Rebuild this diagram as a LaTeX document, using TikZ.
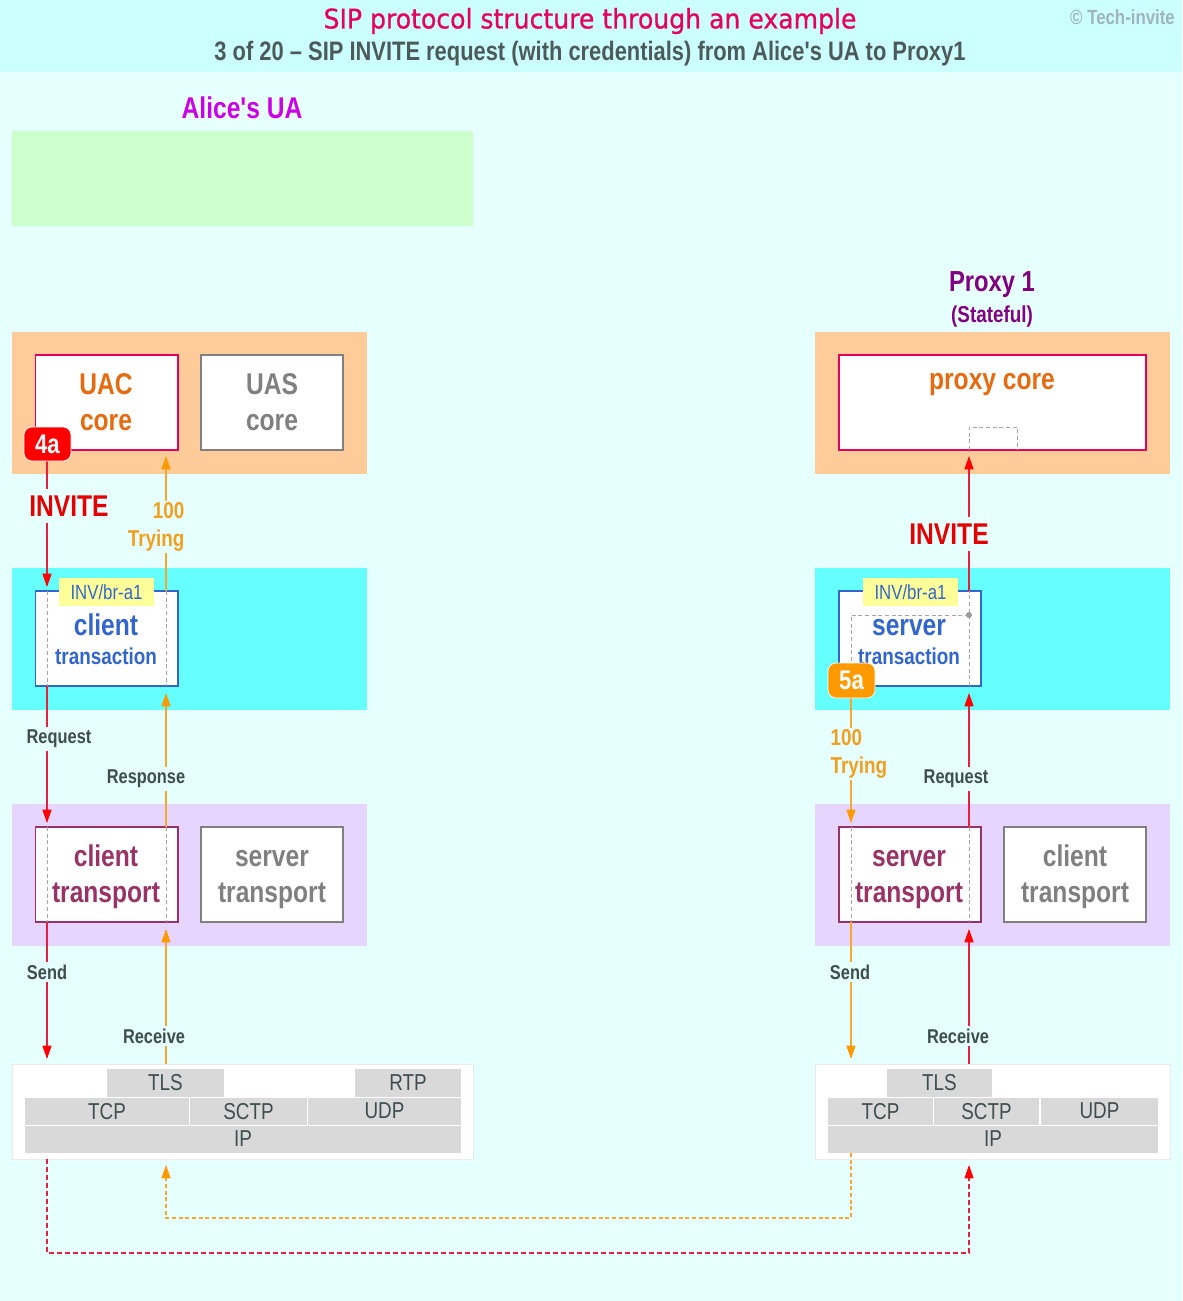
\documentclass[tikz,border=0pt]{standalone}
\usepackage{fontspec}
\setmainfont[FakeStretch=0.82]{Liberation Sans}
\newfontfamily\plainf[FakeStretch=0.82]{Liberation Sans}
\newfontfamily\titlefont[FakeStretch=0.93,FakeBold=0.7]{DejaVu Sans}
\usetikzlibrary{arrows.meta}
\definecolor{pagebg}{HTML}{E6FFFF}
\definecolor{headbg}{HTML}{CCFFFF}
\definecolor{greenbg}{HTML}{CCFFCC}
\definecolor{orangebg}{HTML}{FFCC99}
\definecolor{cyanbg}{HTML}{66FFFF}
\definecolor{lilacbg}{HTML}{E6D5FF}
\definecolor{pinkline}{HTML}{E6005C}
\definecolor{coretxt}{HTML}{E66A10}
\definecolor{grayline}{HTML}{808080}
\definecolor{blueline}{HTML}{3366CC}
\definecolor{transline}{HTML}{993366}
\definecolor{redc}{HTML}{FF0000}
\definecolor{orangec}{HTML}{FF9900}
\definecolor{stackc}{HTML}{D9D9D9}
\definecolor{darktxt}{HTML}{404D4D}
\definecolor{subtxt}{HTML}{4D5A5A}
\definecolor{trying}{HTML}{F0A020}
\definecolor{redthin}{HTML}{E8203C}
\definecolor{orgthin}{HTML}{F5A830}
\definecolor{alicec}{HTML}{CC00E6}
\definecolor{proxyc}{HTML}{800080}
\definecolor{tagc}{HTML}{FFFF99}
\definecolor{copyc}{HTML}{A0B4BE}
\newcommand{\fs}[1]{\fontsize{\dimexpr#1pt*3/4\relax}{\dimexpr#1pt*9/10\relax}\selectfont}
\newcommand{\ct}[1]{\raisebox{0.75pt}{#1}\hspace{2pt}}
% \rbox{name}{x1}{y1}{x2}{y2}{style}{text}
\newcommand{\rbox}[7]{%
  \pgfmathsetmacro{\bw}{(#4-#2)*0.75}\pgfmathsetmacro{\bh}{(#5-#3)*0.75}%
  \node[#6,minimum width=\bw pt,minimum height=\bh pt,anchor=north west] (#1) at (#2,#3) {#7};}
\tikzset{
  x=0.75pt,y=-0.75pt,
  band/.style={draw=none,inner sep=0pt,outer sep=0pt},
  wbox/.style={draw=#1,fill=white,line width=1.3pt,inner sep=0pt,outer sep=0pt,align=center},
  stackbox/.style={draw=black!8,fill=white,line width=0.6pt,inner sep=0pt,outer sep=0pt},
  cell/.style={fill=stackc,inner sep=0pt,outer sep=0pt,text=darktxt,font=\fs{23}},
  boxt/.style={font=\bfseries\fs{#1},inner sep=0pt,align=center},
  tag/.style={fill=tagc,inner sep=0pt,outer sep=0pt,text=blueline,font=\fs{20.5}},
  badge/.style={rounded corners=6pt,inner sep=0pt,outer sep=0pt,text=white,font=\bfseries\fs{27},draw=white,line width=0.5pt},
  lbl/.style={font=\bfseries\fs{20},text=darktxt,inner sep=1pt,inner ysep=2pt,fill=pagebg},
  inv/.style={font=\bfseries\fs{30},text=red!90!black,inner xsep=0pt,inner ysep=5pt,fill=pagebg},
  try/.style={font=\bfseries\fs{23},text=trying,inner sep=1pt,fill=pagebg},
  arrowr/.style={-{Triangle[length=10pt,width=6.8pt,color=redc,fill=redc]}},
  arrowo/.style={-{Triangle[length=10pt,width=6.8pt,color=orangec,fill=orangec]}},
  redarrow/.style={draw=redthin,line width=0.8pt,arrowr},
  orgarrow/.style={draw=orgthin,line width=0.8pt,arrowo},
  inner/.style={draw=grayline!70,line width=0.6pt,dash pattern=on 3pt off 2pt},
  reddash/.style={draw=redthin,line width=0.8pt,dash pattern=on 4pt off 2pt,arrowr},
  orgdash/.style={draw=orgthin,line width=0.8pt,dash pattern=on 3pt off 2pt,arrowo},
}
\begin{document}
\begin{tikzpicture}
\useasboundingbox (0,0) rectangle (1182,1301);
\fill[pagebg] (0,0) rectangle (1182,1301);
\fill[headbg] (0,0) rectangle (1182,72);
\node[inner sep=0pt,font=\titlefont\fs{27},text=pinkline] (title) at (590,21) {SIP protocol structure through an example};
\node[inner sep=0pt,font=\plainf\bfseries\fs{26.7},text=subtxt] (subtitle) at (590,54) {3 of 20 – SIP INVITE request (with credentials) from Alice's UA to Proxy1};
\node[inner sep=0pt,font=\bfseries\fs{20.5},text=copyc,anchor=east] (copy) at (1175,17) {© Tech-invite};
\node[inner sep=0pt,font=\plainf\bfseries\fs{30},text=alicec] (alice) at (242,108) {Alice's UA};
\node[inner sep=0pt,font=\bfseries\fs{29},text=proxyc] (proxy) at (992,285) {Proxy 1};
\node[inner sep=0pt,font=\bfseries\fs{23},text=proxyc] (stateful) at (992,317) {(Stateful)};

% bands
\rbox{greenband}{12}{131}{473}{226}{band,fill=greenbg}{}
\rbox{oL}{12}{332}{367}{474}{band,fill=orangebg}{}
\rbox{oR}{815}{332}{1170}{474}{band,fill=orangebg}{}
\rbox{cL}{12}{568}{367}{710}{band,fill=cyanbg}{}
\rbox{cR}{815}{568}{1170}{710}{band,fill=cyanbg}{}
\rbox{lL}{12}{804}{367}{946}{band,fill=lilacbg}{}
\rbox{lR}{815}{804}{1170}{946}{band,fill=lilacbg}{}

% boxes
\rbox{uac}{35.6}{355}{177.7}{450}{wbox=pinkline}{}
\rbox{uas}{201.3}{355}{343.3}{450}{wbox=grayline}{}
\rbox{ctr}{35.6}{591}{177.7}{686}{wbox=blueline}{}
\rbox{ctp}{35.6}{827}{177.7}{922}{wbox=transline}{}
\rbox{stp}{201.3}{827}{343.3}{922}{wbox=grayline}{}
\rbox{core}{838.9}{355}{1146.3}{450}{wbox=pinkline}{}
\rbox{str}{838.9}{591}{981}{686}{wbox=blueline}{}
\rbox{stpR}{838.9}{827}{981}{922}{wbox=transline}{}
\rbox{ctpR}{1004.3}{827}{1146.3}{922}{wbox=grayline}{}

% stacks
\rbox{stackL}{12}{1064}{473}{1159}{stackbox}{}
\rbox{stackR}{815}{1064}{1170}{1159}{stackbox}{}
\rbox{tlsL}{107}{1069}{224}{1097}{cell}{\ct{TLS}}
\rbox{rtpL}{355}{1069}{461}{1097}{cell}{\ct{RTP}}
\rbox{tcpL}{25}{1098}{189}{1125}{cell}{\ct{TCP}}
\rbox{sctpL}{190}{1098}{307}{1125}{cell}{\ct{SCTP}}
\rbox{udpL}{308}{1098}{461}{1125}{cell}{\ct{UDP}}
\rbox{ipL}{25}{1126}{461}{1153}{cell}{\ct{IP}}
\rbox{tlsR}{887}{1069}{992}{1097}{cell}{\ct{TLS}}
\rbox{tcpR}{828}{1098}{933}{1125}{cell}{\ct{TCP}}
\rbox{sctpR}{934}{1098}{1039}{1125}{cell}{\ct{SCTP}}
\rbox{udpR}{1041}{1098}{1158}{1125}{cell}{\ct{UDP}}
\rbox{ipR}{828}{1126}{1158}{1153}{cell}{\ct{IP}}

% connector waypoints
\coordinate (a1) at (47,443);  \coordinate (a2) at (47,587);
\coordinate (a3) at (47,591);  \coordinate (a4) at (47,686);
\coordinate (a5) at (47,823);  \coordinate (a6) at (47,827);
\coordinate (a7) at (47,922);  \coordinate (a8) at (47,1059);
\coordinate (a9) at (47,1159); \coordinate (a10) at (47,1253);
\coordinate (b1) at (166,1064); \coordinate (b2) at (166,929);
\coordinate (b3) at (166,922);  \coordinate (b4) at (166,827);
\coordinate (b5) at (166,693);  \coordinate (b6) at (166,686);
\coordinate (b7) at (166,591);  \coordinate (b8) at (166,456);
\coordinate (b9) at (166,1165); \coordinate (b10) at (166,1218);
\coordinate (c1) at (851,680);  \coordinate (c2) at (851,823);
\coordinate (c3) at (851,827);  \coordinate (c4) at (851,922);
\coordinate (c5) at (851,1059); \coordinate (c6) at (851,1153);
\coordinate (c7) at (851,1218); \coordinate (c8) at (851,615);
\coordinate (d1) at (969,1064); \coordinate (d2) at (969,929);
\coordinate (d3) at (969,922);  \coordinate (d4) at (969,827);
\coordinate (d5) at (969,693);  \coordinate (d6) at (969,686);
\coordinate (d7) at (969,591);  \coordinate (d8) at (969,456);
\coordinate (d9) at (969,1165); \coordinate (d10) at (969,1253);
\coordinate (d11) at (969,615); \coordinate (d12) at (969,450);
\coordinate (d13) at (969,427); \coordinate (d14) at (1017,427);
\coordinate (d15) at (1017,450);

% inner dashed
\draw[inner] (a3) -- (a4); \draw[inner] (a6) -- (a7);
\draw[inner] (b4) -- (b3); \draw[inner] (b7) -- (b6);
\draw[inner] (c3) -- (c4); \draw[inner] (d4) -- (d3);
\draw[inner] (d6) -- (d7);
\draw[inner] (d11) -- (c8) -- (c1);
\draw[inner] (d12) -- (d13) -- (d14) -- (d15);
\fill[grayline!80] (d11) circle[radius=3];

% connectors
\draw[redarrow] (a1) -- (a2);
\draw[redarrow] (a4) -- (a5);
\draw[redarrow] (a7) -- (a8);
\draw[reddash] (a9) -- (a10) -- (d10) -- (d9);
\draw[redarrow] (d1) -- (d2);
\draw[redarrow] (d4) -- (d5);
\draw[redarrow] (d7) -- (d8);
\draw[orgarrow] (b1) -- (b2);
\draw[orgarrow] (b4) -- (b5);
\draw[orgarrow] (b7) -- (b8);
\draw[orgarrow] (c1) -- (c2);
\draw[orgarrow] (c4) -- (c5);
\draw[orgdash] (c6) -- (c7) -- (b10) -- (b9);

% box texts
\node[boxt=30,text=coretxt] (tuac) at (106,402) {UAC\\core};
\node[boxt=30,text=grayline] (tuas) at (272,402) {UAS\\core};
\node[boxt=30,text=coretxt] (tcore) at (992,385) {proxy core};
\node[boxt=30,text=blueline] (tct1) at (106,625) {client};
\node[boxt=23,text=blueline] (tct2) at (106,656) {transaction};
\node[boxt=30,text=blueline] (tst1) at (909,628) {server};
\node[boxt=23,text=blueline] (tst2) at (909,656) {transaction};
\node[boxt=30,text=transline] (tcp) at (106,877) {client\\transport};
\node[boxt=30,text=grayline] (tsp) at (272,880) {server\\transport};
\node[boxt=30,text=transline] (tspR) at (909,880) {server\\transport};
\node[boxt=30,text=grayline] (tcpR) at (1075,877) {client\\transport};
\rbox{tagL}{59}{578}{154}{606}{tag}{INV/br-a1}
\rbox{tagR}{863}{578}{958}{606}{tag}{INV/br-a1}

% badges
\rbox{b4a}{24}{427}{71}{461}{badge,fill=red}{4a}
\rbox{b5a}{828}{663}{875}{698}{badge,fill=orangec}{5a}

% labels
\node[inv] (inv1) at (69,506) {INVITE};
\node[inv] (inv2) at (949,534) {INVITE};
\node[try,align=right,anchor=east] (try1) at (186,527) {100\\Trying};
\node[try,align=left,anchor=west] (try2) at (829,754) {100\\Trying};
\node[lbl] (req1) at (59,739) {Request};
\node[lbl] (resp) at (146,779) {Response};
\node[lbl] (req2) at (956,779) {Request};
\node[lbl] (send1) at (47,972) {Send};
\node[lbl] (send2) at (850,972) {Send};
\node[lbl] (rec1) at (154,1036) {Receive};
\node[lbl] (rec2) at (958,1036) {Receive};
\end{tikzpicture}
\end{document}
